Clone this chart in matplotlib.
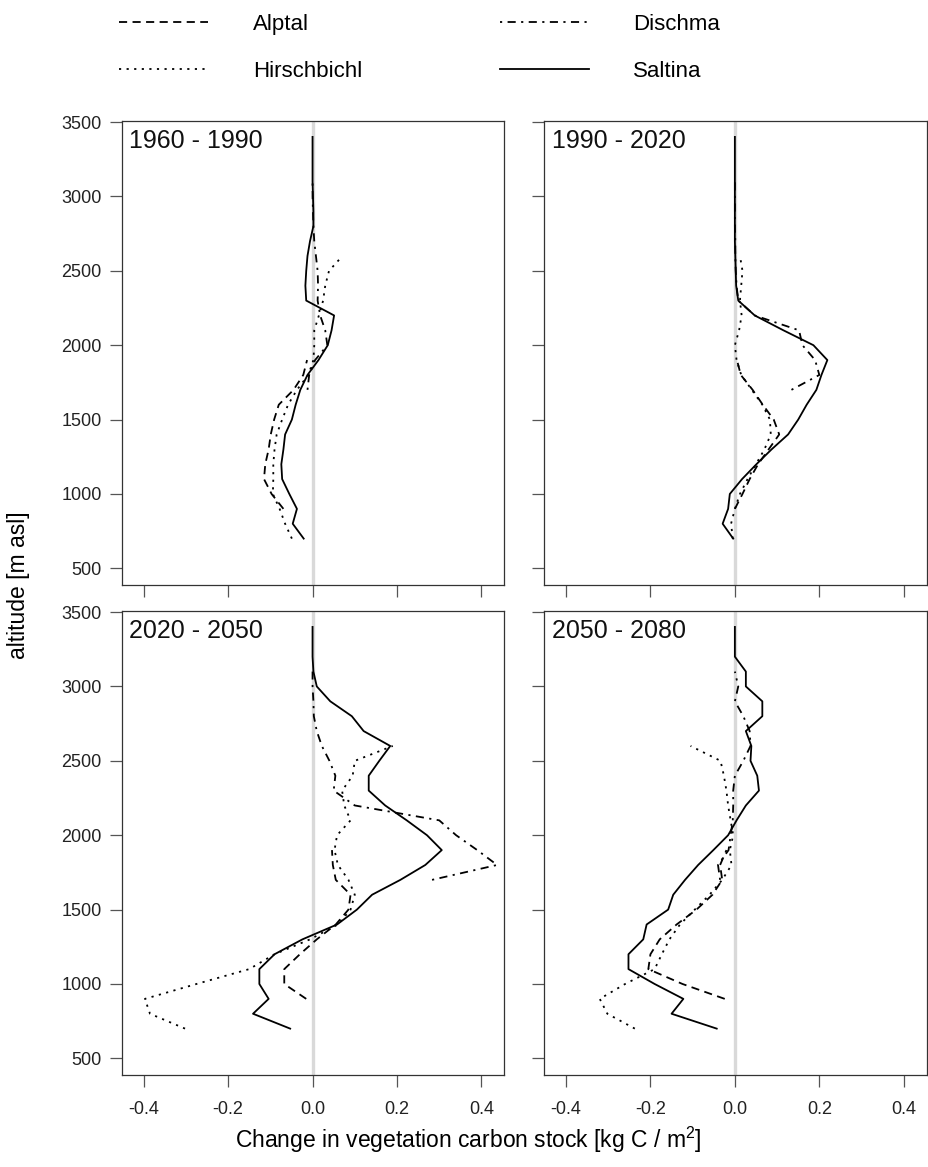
import numpy as np
import matplotlib.pyplot as plt

plt.rcParams['font.family'] = ['Liberation Sans', 'DejaVu Sans']
plt.rcParams['mathtext.fontset'] = 'custom'
plt.rcParams['mathtext.rm'] = 'Liberation Sans'

periods = ["1960 - 1990", "1990 - 2020", "2020 - 2050", "2050 - 2080"]

# altitude bands [m asl] covered by each catchment
alt_alptal = [900, 1000, 1100, 1200, 1300, 1400, 1500, 1600, 1700, 1800, 1900]
alt_hirschbichl = [700, 800, 900, 1000, 1100, 1200, 1300, 1400, 1500, 1600,
                   1700, 1800, 1900, 2000, 2100, 2200, 2300, 2400, 2500, 2600]
alt_dischma = [1700, 1800, 1900, 2000, 2100, 2200, 2300, 2400, 2500, 2600,
               2700, 2800, 2900, 3000, 3100]
alt_saltina = [700, 800, 900, 1000, 1100, 1200, 1300, 1400, 1500, 1600,
               1700, 1800, 1900, 2000, 2100, 2200, 2300, 2400, 2500, 2600,
               2700, 2800, 2900, 3000, 3100, 3200, 3300, 3400]

# change in vegetation carbon stock [kg C / m2], one list per period
alptal = [
    [-0.069, -0.097, -0.115, -0.112, -0.104, -0.099, -0.091, -0.080, -0.045, -0.022, -0.013],
    [0.000, 0.018, 0.035, 0.055, 0.080, 0.105, 0.092, 0.066, 0.042, 0.014, 0.005],
    [-0.015, -0.067, -0.067, -0.030, 0.010, 0.055, 0.085, 0.090, 0.055, 0.048, 0.046],
    [-0.024, -0.124, -0.205, -0.200, -0.178, -0.138, -0.091, -0.053, -0.030, -0.035, -0.020],
]
hirschbichl = [
    [-0.049, -0.065, -0.078, -0.094, -0.093, -0.093, -0.090, -0.085, -0.072, -0.058,
     -0.037, -0.010, 0.002, 0.004, 0.004, 0.015, 0.025, 0.030, 0.039, 0.071],
    [-0.005, -0.009, 0.000, 0.012, 0.030, 0.050, 0.070, 0.085, 0.083, 0.065,
     0.040, 0.015, 0.004, 0.000, 0.010, 0.016, 0.012, 0.015, 0.018, 0.012],
    [-0.302, -0.385, -0.397, -0.275, -0.150, -0.090, -0.006, 0.060, 0.090, 0.100,
     0.085, 0.060, 0.052, 0.058, 0.090, 0.075, 0.070, 0.095, 0.100, 0.190],
    [-0.237, -0.302, -0.320, -0.260, -0.190, -0.173, -0.155, -0.130, -0.095, -0.060,
     -0.030, -0.008, -0.012, -0.004, -0.010, -0.016, -0.020, -0.026, -0.034, -0.105],
]
dischma = [
    [-0.012, -0.008, 0.006, 0.035, 0.030, 0.018, 0.012, 0.013, 0.012, 0.008,
     0.004, 0.002, 0.001, 0.000, 0.000],
    [0.134, 0.200, 0.190, 0.160, 0.152, 0.047, 0.008, 0.004, 0.002, 0.001,
     0.001, 0.000, 0.000, 0.000, 0.000],
    [0.283, 0.437, 0.390, 0.340, 0.300, 0.100, 0.050, 0.054, 0.040, 0.022,
     0.010, 0.003, 0.002, 0.000, 0.000],
    [-0.035, -0.040, -0.015, -0.010, -0.005, -0.004, -0.004, 0.000, 0.020, 0.037,
     0.035, 0.020, 0.000, 0.008, 0.000],
]
saltina = [
    [-0.021, -0.047, -0.037, -0.055, -0.072, -0.074, -0.069, -0.065, -0.049, -0.040,
     -0.029, -0.012, 0.014, 0.036, 0.045, 0.051, -0.015, -0.017, -0.015, -0.012,
     -0.006, 0.002, 0.002, 0.001, 0.000, 0.000, 0.000, 0.000],
    [-0.004, -0.029, -0.016, -0.012, 0.017, 0.051, 0.087, 0.126, 0.150, 0.170,
     0.193, 0.205, 0.219, 0.186, 0.115, 0.047, 0.008, 0.003, 0.002, 0.001,
     0.000, 0.000, 0.000, 0.000, 0.000, 0.000, 0.000, 0.000],
    [-0.053, -0.141, -0.104, -0.126, -0.126, -0.090, -0.024, 0.058, 0.105, 0.141,
     0.208, 0.267, 0.306, 0.271, 0.223, 0.172, 0.133, 0.133, 0.158, 0.184,
     0.121, 0.093, 0.042, 0.010, 0.002, 0.000, 0.000, 0.000],
    [-0.043, -0.150, -0.122, -0.190, -0.252, -0.252, -0.217, -0.209, -0.158, -0.146,
     -0.118, -0.087, -0.051, -0.016, 0.004, 0.026, 0.057, 0.053, 0.037, 0.039,
     0.026, 0.065, 0.065, 0.026, 0.026, 0.000, 0.000, 0.000],
]

series = [
    ("Alptal", alt_alptal, alptal, (0, (4.5, 3))),
    ("Hirschbichl", alt_hirschbichl, hirschbichl, (0, (1.2, 3))),
    ("Dischma", alt_dischma, dischma, (0, (1.2, 3, 4.5, 3))),
    ("Saltina", alt_saltina, saltina, '-'),
]

fig = plt.figure(figsize=(9.29, 11.67), dpi=100)

lefts = [0.131, 0.5856]
bottoms = [0.4987, 0.0788]
w, h = 0.4118, 0.398

frame = '#333333'
handles = []
for i, period in enumerate(periods):
    row, col = divmod(i, 2)
    ax = fig.add_axes([lefts[col], bottoms[row], w, h])
    ax.axvline(0, color='#d9d9d9', lw=2.4, zorder=1)
    for name, alts, vals, ls in series:
        ln, = ax.plot(vals[i], alts, color='black', lw=1.3, linestyle=ls,
                      label=name, zorder=3)
        if i == 0:
            handles.append(ln)
    ax.set_xlim(-0.452, 0.454)
    ax.set_ylim(388, 3510)
    ax.set_xticks([-0.4, -0.2, 0.0, 0.2, 0.4])
    ax.set_yticks([500, 1000, 1500, 2000, 2500, 3000, 3500])
    if row == 1:
        ax.set_xticklabels(['-0.4', '-0.2', '0.0', '0.2', '0.4'])
    else:
        ax.set_xticklabels([])
    if col == 0:
        ax.set_yticklabels(['500', '1000', '1500', '2000', '2500', '3000', '3500'])
    else:
        ax.set_yticklabels([])
    ax.tick_params(direction='out', length=8.5, width=0.9, color='#555555',
                   labelsize=13, labelcolor='#222222')
    ax.tick_params(axis='x', pad=10)
    ax.tick_params(axis='y', pad=6)
    for sp in ax.spines.values():
        sp.set_color(frame)
        sp.set_linewidth(0.9)
    ax.text(0.02, 0.982, period, transform=ax.transAxes, ha='left', va='top',
            fontsize=18, color='#111111')

fig.legend(handles, [s[0] for s in series], ncol=2, loc='upper left',
           bbox_to_anchor=(0.1285, 0.988), frameon=False, fontsize=16,
           handlelength=4.0, handletextpad=2.0, columnspacing=6.2,
           labelspacing=1.15, borderpad=0, borderaxespad=0)

fig.text(0.0194, 0.4987, 'altitude [m asl]', rotation=90, ha='center',
         va='center', fontsize=16.5)
fig.text(0.504, 0.0231, 'Change in vegetation carbon stock [kg C / m$^2$]',
         ha='center', va='center', fontsize=16.5)

fig.savefig('out.png', dpi=100)
